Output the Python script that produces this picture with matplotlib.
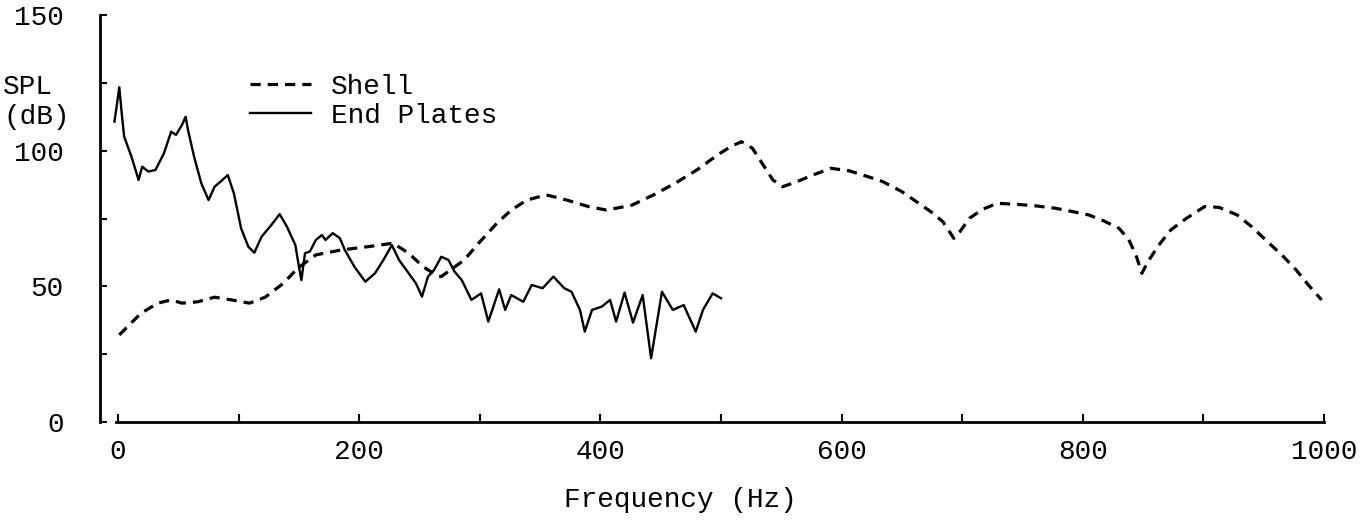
import matplotlib.pyplot as plt

# Shell response (dashed)
shell_hz = [1, 19, 33, 44, 53, 66, 80, 94, 109, 122, 137, 149, 164, 185, 207, 228,
            241, 253, 265, 268, 287, 299, 314, 326, 339, 355, 372, 390, 405, 426,
            444, 462, 480, 497, 508, 517, 526, 534, 543, 551, 563, 576, 591, 606,
            622, 634, 650, 662, 674, 684, 693, 698, 706, 717, 729, 746, 762, 777,
            792, 805, 817, 830, 838, 844, 849, 854, 863, 873, 886, 901, 913, 928,
            940, 953, 965, 977, 987, 998]
shell_db = [32.1, 40.1, 43.8, 45.0, 43.8, 44.3, 46.0, 45.0, 43.8, 46.0, 51.1, 56.7,
            61.6, 63.4, 64.6, 65.9, 62.2, 57.2, 53.8, 53.6, 59.7, 65.9, 73.2, 78.1,
            81.8, 83.7, 81.8, 79.4, 78.1, 79.9, 83.7, 88.0, 92.9, 98.4, 101.5, 103.3,
            100.9, 95.4, 89.2, 86.7, 88.6, 91.0, 93.5, 92.6, 90.4, 88.6, 84.9, 81.2,
            77.5, 73.8, 67.7, 70.1, 75.1, 78.4, 80.6, 80.2, 79.6, 78.8, 77.5, 76.3,
            74.2, 71.4, 67.3, 61.6, 54.8, 59.1, 65.2, 70.8, 75.1, 79.4, 79.1, 76.3,
            72.0, 66.5, 61.6, 56.0, 50.5, 45.0]

# End plates response (solid)
plates_hz = [-3, 1, 3, 5, 11, 17, 20, 25, 31, 38, 44, 48, 53, 56, 58, 63, 69, 75,
             80, 85, 91, 96, 102, 108, 113, 119, 126, 134, 140, 147, 150, 152, 155,
             159, 164, 169, 172, 178, 184, 188, 196, 205, 213, 220, 227, 233, 241,
             247, 252, 257, 262, 268, 274, 279, 285, 293, 301, 307, 316, 321, 326,
             336, 343, 352, 361, 370, 376, 383, 387, 393, 401, 408, 413, 420, 427,
             435, 442, 451, 460, 469, 479, 485, 493, 500]
plates_db = [110.7, 123.4, 113.8, 105.2, 97.9, 89.2, 94.1, 92.3, 92.9, 99.0, 107.0,
             105.8, 109.5, 112.5, 107.6, 97.8, 88.0, 81.8, 86.7, 88.6, 91.0, 84.3,
             71.4, 64.6, 62.4, 68.3, 72.0, 76.6, 72.0, 65.2, 57.2, 52.3, 62.2, 62.8,
             67.1, 68.9, 67.1, 69.6, 67.7, 63.4, 57.2, 51.7, 54.8, 59.7, 65.2, 59.7,
             54.8, 51.1, 46.2, 53.6, 56.0, 60.9, 59.7, 55.4, 52.3, 45.0, 47.4, 37.0,
             48.9, 41.3, 46.8, 44.3, 50.5, 49.3, 53.6, 49.3, 48.0, 41.3, 33.3, 41.3,
             42.5, 45.0, 37.0, 47.7, 36.6, 46.8, 23.5, 48.0, 41.3, 43.1, 33.3, 41.3,
             47.4, 45.6]

x_ticks = list(range(0, 1001, 100))
x_labels = ["0", "", "200", "", "400", "", "600", "", "800", "", "1000"]
y_ticks = list(range(0, 151, 25))
y_labels = ["0", "", "50", "", "100", "", "150"]

plt.rcParams["font.family"] = ["Liberation Mono", "DejaVu Sans Mono"]

W, H = 1367, 531
fig = plt.figure(figsize=(W / 100, H / 100), dpi=100)
ax = fig.add_axes([100 / W, 1 - 422 / H, (1324 - 100) / W, (422 - 15) / H])

ax.plot(shell_hz, shell_db, color="black", lw=2.3, dashes=(3.2, 2.2),
        label="Shell")
ax.plot(plates_hz, plates_db, color="black", lw=1.7, label="End Plates")

ax.set_xlim(-15, 1000)
ax.set_ylim(0, 150)

for s in ["top", "right"]:
    ax.spines[s].set_visible(False)
ax.spines["left"].set_linewidth(2)
ax.spines["bottom"].set_linewidth(2)
ax.spines["bottom"].set_bounds(-2, 1000)

ax.set_xticks(x_ticks)
ax.set_xticklabels(x_labels)
ax.set_yticks(y_ticks)
ax.set_yticklabels(y_labels)
ax.tick_params(axis="x", direction="in", length=6, width=1.5, pad=12,
               labelsize=20)
ax.tick_params(axis="y", direction="in", length=5, width=1.5, pad=26,
               labelsize=20)

fig.text(680 / W, 1 - 500 / H, "Frequency (Hz)", fontsize=20,
         ha="center", va="center")
fig.text(3 / W, 1 - 87 / H, "SPL", fontsize=20, ha="left", va="center")
fig.text(3 / W, 1 - 117 / H, "(dB)", fontsize=20, ha="left", va="center")

ax.legend(loc="upper left", bbox_to_anchor=(250 / W, 1 - 74 / H),
          bbox_transform=fig.transFigure, frameon=False, fontsize=20,
          handlelength=2.2, handletextpad=0.7, labelspacing=0.1,
          borderpad=0, borderaxespad=0)

fig.savefig("out.png", dpi=100)
